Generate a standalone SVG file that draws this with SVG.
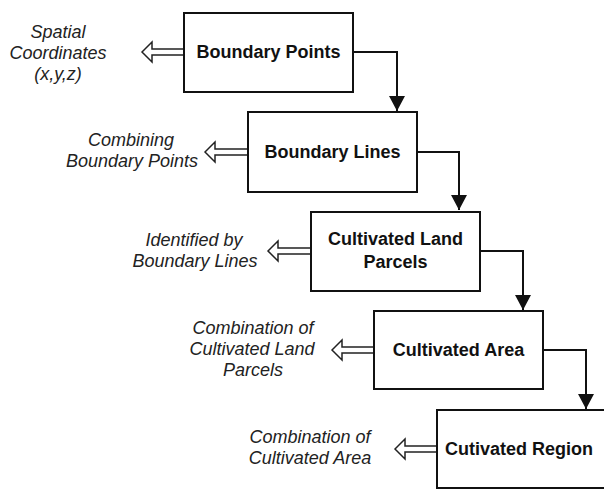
<svg xmlns="http://www.w3.org/2000/svg" width="604" height="489" viewBox="0 0 604 489">
<defs>
<style>
.box{fill:#fff;stroke:#111;stroke-width:2}
.lbl{font-family:"Liberation Sans",Arial,sans-serif;font-weight:bold;font-size:18px;fill:#111;text-anchor:middle}
.note{font-family:"Liberation Sans",Arial,sans-serif;font-style:italic;font-size:18px;fill:#222;text-anchor:middle}
.conn{fill:none;stroke:#111;stroke-width:2}
.hollow{fill:#fff;stroke:#222;stroke-width:1.5;stroke-linejoin:miter}
</style>
<marker id="ah" markerWidth="16" markerHeight="15" refX="8" refY="15" orient="0" markerUnits="userSpaceOnUse">
<path d="M0,0 L16,0 L8,15 Z" fill="#111"/>
</marker>
</defs>
<rect width="604" height="489" fill="#fff"/>
<g id="connectors">
<path class="conn" d="M353,52 H397 V111" marker-end="url(#ah)"/>
<path class="conn" d="M417,152 H459 V210" marker-end="url(#ah)"/>
<path class="conn" d="M480,251 H523 V310" marker-end="url(#ah)"/>
<path class="conn" d="M543,350 H586 V409" marker-end="url(#ah)"/>
<polygon class="hollow" points="142,52 152,42 152,49 184,49 184,55 152,55 152,62"/>
<polygon class="hollow" points="205,152 215,142 215,149 248,149 248,155 215,155 215,162"/>
<polygon class="hollow" points="268,251 278,241 278,248 311,248 311,254 278,254 278,261"/>
<polygon class="hollow" points="332,350 342,340 342,347 374,347 374,353 342,353 342,360"/>
<polygon class="hollow" points="395,449 405,439 405,446 437,446 437,452 405,452 405,459"/>
</g>
<g id="n1">
<rect class="box" x="184" y="13" width="169" height="79"/>
<text class="lbl" x="268.5" y="58">Boundary Points</text>
</g>
<g id="n1note">
<text class="note" x="58" y="38">Spatial</text>
<text class="note" x="58" y="59">Coordinates</text>
<text class="note" x="58" y="80">(x,y,z)</text>
</g>
<g id="n2">
<rect class="box" x="248" y="112" width="169" height="80"/>
<text class="lbl" x="332.5" y="158">Boundary Lines</text>
</g>
<g id="n2note">
<text class="note" x="131" y="146">Combining</text>
<text class="note" x="132" y="167">Boundary Points</text>
</g>
<g id="n3">
<rect class="box" x="311" y="212" width="169" height="79"/>
<text class="lbl" x="395.5" y="245">Cultivated Land</text>
<text class="lbl" x="395.5" y="268">Parcels</text>
</g>
<g id="n3note">
<text class="note" x="194" y="246">Identified by</text>
<text class="note" x="195" y="267">Boundary Lines</text>
</g>
<g id="n4">
<rect class="box" x="374" y="311" width="169" height="78"/>
<text class="lbl" x="458.5" y="356">Cultivated Area</text>
</g>
<g id="n4note">
<text class="note" x="253" y="334">Combination of</text>
<text class="note" x="252" y="355">Cultivated Land</text>
<text class="note" x="253" y="376">Parcels</text>
</g>
<g id="n5">
<rect class="box" x="437" y="410" width="180" height="78"/>
<text class="lbl" x="445" y="455" style="text-anchor:start">Cutivated Region</text>
</g>
<g id="n5note">
<text class="note" x="310" y="443">Combination of</text>
<text class="note" x="310" y="464">Cultivated Area</text>
</g>
</svg>
